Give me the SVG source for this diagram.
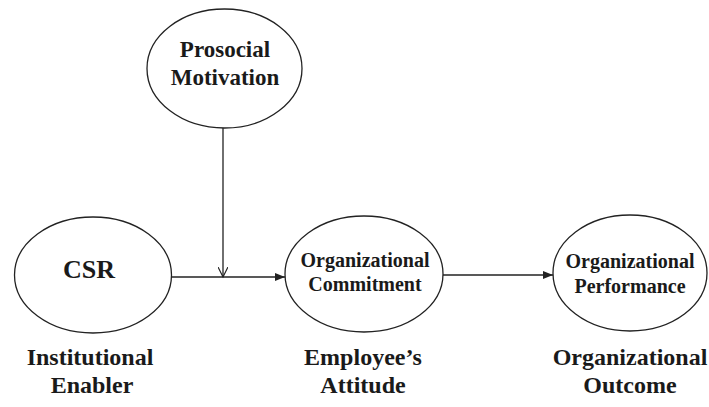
<svg xmlns="http://www.w3.org/2000/svg" width="709" height="407" viewBox="0 0 709 407">
<style>
.node ellipse{fill:#fff;stroke:#222;stroke-width:1.3}
text{font-family:"Liberation Serif","DejaVu Serif",serif;font-weight:bold;fill:#1a1a1a;text-anchor:middle}
.conn line{stroke:#222;stroke-width:1.3}
</style>
<defs>
<marker id="filled" markerWidth="10" markerHeight="8" refX="10" refY="4" orient="auto" markerUnits="userSpaceOnUse">
<path d="M0,0 L10,4 L0,8 Z" fill="#222"/>
</marker>
<marker id="open" markerWidth="12" markerHeight="10" refX="10" refY="5" orient="auto" markerUnits="userSpaceOnUse">
<path d="M0,0 L10,5 L0,10" fill="none" stroke="#222" stroke-width="1.2"/>
</marker>
</defs>
<rect width="709" height="407" fill="#fff"/>
<g class="conn">
<line x1="223" y1="128" x2="223" y2="277" marker-end="url(#open)"/>
<line x1="172" y1="277" x2="285" y2="277" marker-end="url(#filled)"/>
<line x1="443" y1="275" x2="553" y2="275" marker-end="url(#filled)"/>
</g>
<g id="prosocial" class="node">
<ellipse cx="224.5" cy="68.5" rx="77.5" ry="59.5"/>
<text x="225" y="57" font-size="23">Prosocial</text>
<text x="225" y="85" font-size="23">Motivation</text>
</g>
<g id="csr" class="node">
<ellipse cx="93" cy="275" rx="78.5" ry="58"/>
<text x="89" y="278" font-size="26">CSR</text>
</g>
<g id="commitment" class="node">
<ellipse cx="364" cy="274" rx="79" ry="58"/>
<text x="365" y="267" font-size="20">Organizational</text>
<text x="365" y="291" font-size="20">Commitment</text>
</g>
<g id="performance" class="node">
<ellipse cx="630" cy="273" rx="77" ry="58"/>
<text x="630" y="268" font-size="20">Organizational</text>
<text x="630" y="293" font-size="20">Performance</text>
</g>
<g id="labels">
<text x="90" y="365" font-size="24">Institutional</text>
<text x="92" y="393" font-size="24">Enabler</text>
<text x="363" y="365" font-size="24">Employee’s</text>
<text x="363" y="393" font-size="24">Attitude</text>
<text x="630" y="365" font-size="24">Organizational</text>
<text x="630" y="393" font-size="24">Outcome</text>
</g>
</svg>
